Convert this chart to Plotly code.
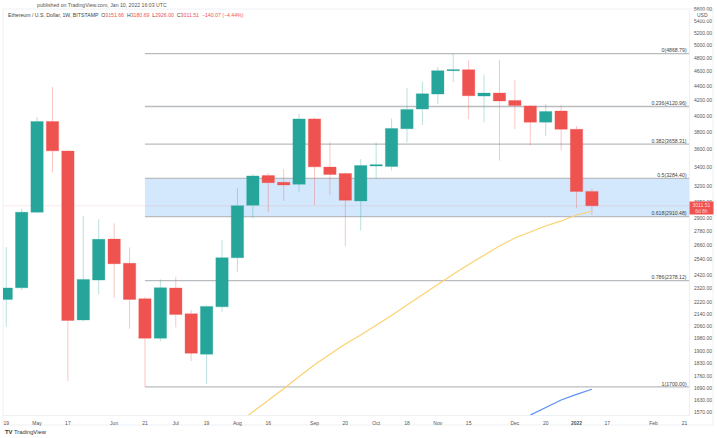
import pandas as pd
import plotly.graph_objects as go

# weekly candles, ETH/USD
weeks = pd.date_range("2021-04-19", periods=39, freq="7D")
opens = [2241, 2325, 2951, 3930, 3580, 2100, 2382, 2711, 2511, 2245, 1982, 2323, 2141,
         1885, 2189, 2556, 3017, 3313, 3244, 3224, 3963, 3403, 3335, 3058, 3415, 3409,
         3841, 4087, 4286, 4615, 4629, 4259, 4299, 4201, 4127, 3922, 4062, 3835, 3151.66]
highs = [2644, 2982, 3986, 4383, 3585, 2917, 2886, 2850, 2641, 2259, 2387, 2407, 2168,
         2199, 2703, 3187, 3331, 3338, 3382, 4028, 3980, 3679, 3345, 3490, 3679, 3968,
         4373, 4457, 4669, 4869, 4768, 4557, 4778, 4485, 4140, 4157, 4130, 3876, 3180.69]
lows = [2055, 2307, 2945, 3345, 1732, 2091, 2277, 2252, 2042, 1700, 1962, 2051, 1845,
        1716, 2153, 2445, 2893, 2950, 3058, 3147, 3020, 3114, 2652, 2784, 3277, 3367,
        3679, 3887, 4153, 4450, 3960, 3918, 3475, 3836, 3644, 3755, 3587, 2988, 2926]
closes = [2323, 2951, 3930, 3583, 2097, 2387, 2709, 2508, 2241, 1982, 2325, 2137, 1891,
          2192, 2556, 3013, 3310, 3240, 3217, 3963, 3406, 3325, 3065, 3420, 3428, 3845,
          4083, 4290, 4615, 4629, 4263, 4299, 4193, 4135, 3922, 4056, 3835, 3151, 3011.51]

# moving averages, they start partway through the weeks
ma_yellow = [1515, 1571, 1630, 1690, 1757, 1823, 1885, 1946, 2002, 2063, 2129, 2201,
             2275, 2352, 2427, 2502, 2578, 2652, 2720, 2773, 2826, 2871, 2925, 2960]
ma_blue = [1555, 1594, 1631, 1660, 1687]

fib_names = ["0", "0.236", "0.382", "0.5", "0.618", "0.786", "1"]
fib_prices = [4868.79, 4120.96, 3658.31, 3284.40, 2910.48, 2378.12, 1700.00]

price_ticks = [5600, 5400, 5200, 5000, 4800, 4600, 4400, 4200, 4000, 3800, 3600, 3400,
               3200, 3050, 2900, 2780, 2660, 2540, 2420, 2320, 2220, 2140, 2060, 1980,
               1900, 1830, 1760, 1690, 1630, 1570]
date_ticks = ["2021-04-19", "2021-05-03", "2021-05-17", "2021-06-07", "2021-06-21",
              "2021-07-05", "2021-07-19", "2021-08-02", "2021-08-16", "2021-09-06",
              "2021-09-20", "2021-10-04", "2021-10-18", "2021-11-01", "2021-11-15",
              "2021-12-06", "2021-12-20", "2022-01-03", "2022-01-17", "2022-02-07",
              "2022-02-21"]
date_labels = ["19", "May", "17", "Jun", "21", "Jul", "19", "Aug", "16", "Sep", "20",
               "Oct", "18", "Nov", "15", "Dec", "20", "<b>2022</b>", "17", "Feb", "21"]

FONT = "Liberation Sans"
GREEN = "#26a69a"
RED = "#ef5350"
FRAME = "#eef0f4"
fib_start = "2021-06-21"
axis_start = "2021-04-17 12:40"
axis_end = "2022-02-23 02:00"

fig = go.Figure()

# blue zone between 0.5 and 0.618, shapes so the candles stay on top
fig.add_shape(type="rect", x0=fib_start, x1=axis_end, y0=fib_prices[4], y1=fib_prices[3],
              fillcolor="#d3e8fd", line=dict(width=0), layer="below")

for name, price in zip(fib_names, fib_prices):
    fig.add_shape(type="line", x0=fib_start, x1=axis_end, y0=price, y1=price,
                  line=dict(color="#b8bcbf", width=1.3), layer="below")
    fig.add_trace(go.Scatter(
        x=["2022-02-22"], y=[price], mode="text",
        text=[f"{name}({price:.2f})"], textposition="top left",
        textfont=dict(family=FONT, size=5.2, color="#444444")
    ))

# last price line
fig.add_shape(type="line", x0=axis_start, x1=axis_end, y0=closes[-1], y1=closes[-1],
              line=dict(color="rgba(239,83,80,0.13)", width=1), layer="below")

fig.add_trace(go.Candlestick(
    x=weeks, open=opens, high=highs, low=lows, close=closes,
    increasing=dict(line=dict(color="rgba(38,166,154,0.33)", width=1), fillcolor=GREEN),
    decreasing=dict(line=dict(color="rgba(239,83,80,0.33)", width=1), fillcolor=RED),
    whiskerwidth=0
))

fig.add_trace(go.Scatter(
    x=weeks[15:], y=ma_yellow, mode="lines", line=dict(color="#fbd26e", width=1.2)
))
fig.add_trace(go.Scatter(
    x=weeks[34:], y=ma_blue, mode="lines", line=dict(color="#5b8ff9", width=1.2)
))

fig.update_layout(
    width=717, height=438,
    margin=dict(l=3, r=28, t=9, b=23),
    autosize=False,
    showlegend=False,
    boxgap=0.2,
    boxgroupgap=0,
    paper_bgcolor="white",
    plot_bgcolor="white",
    font=dict(family=FONT, size=5, color="#555555"),
)
fig.update_xaxes(
    type="date", range=[axis_start, axis_end], rangeslider_visible=False, automargin=False,
    tickmode="array", tickvals=date_ticks, ticktext=date_labels, tickangle=0,
    showgrid=False, zeroline=False, showline=True, linecolor=FRAME, linewidth=1,
    ticks="outside", ticklen=3, tickcolor="white", tickfont=dict(size=5)
)
fig.update_yaxes(
    type="log", side="right", range=[3.19187, 3.74873], automargin=False,
    tickmode="array", tickvals=price_ticks, ticktext=[f"{p:.2f}" for p in price_ticks],
    showgrid=False, zeroline=False, showline=True, linecolor=FRAME, linewidth=1,
    ticks="outside", ticklen=3, tickcolor="white", tickfont=dict(size=5)
)

# outer frame of the tradingview chart
fig.add_shape(type="rect", xref="paper", yref="paper", x0=0, x1=1.035, y0=-0.0246, y1=1,
              line=dict(color=FRAME, width=1), layer="below")

val = '<span style="color:#ef5350">%s</span>'
legend_text = ("Ethereum / U.S. Dollar, 1W, BITSTAMP  O" + val % "3151.66" + "  H" + val % "3180.69"
               + "  L" + val % "2926.00" + "  C" + val % "3011.51"
               + "  " + val % "−140.07 (−4.44%)")
fig.add_annotation(text="published on TradingView.com, Jan 10, 2022 16:03 UTC",
                   xref="paper", yref="paper", x=0.0465, y=1.0105, xanchor="left", yanchor="middle",
                   showarrow=False, font=dict(size=5.2, color="#555555"))
fig.add_annotation(text=legend_text, xref="paper", yref="paper", x=0.004, y=0.985,
                   xanchor="left", yanchor="middle", showarrow=False,
                   font=dict(size=5.2, color="#444444"))
fig.add_annotation(text="USD", xref="paper", yref="paper", x=1.0195, y=0.9857,
                   xanchor="center", yanchor="middle", showarrow=False,
                   font=dict(size=5, color="#555555"), bgcolor="white")
fig.add_annotation(text="3011.51<br>6d 8h", xref="paper", yref="paper", x=1.0, y=0.509,
                   xanchor="left", yanchor="middle", showarrow=False, align="center",
                   width=23, height=11.5, bgcolor=RED, borderpad=0,
                   font=dict(size=5, color="#ffd9d8"))
fig.add_annotation(text="<b>TV</b> TradingView", xref="paper", yref="paper", x=0.0, y=-0.0425,
                   xanchor="left", yanchor="middle", showarrow=False,
                   font=dict(size=5.8, color="#333333"))

# page has a default body margin that would push the fixed size chart out of the window
fig.write_html("out.html", config=dict(displayModeBar=False),
               post_script="document.body.style.margin='0';")
